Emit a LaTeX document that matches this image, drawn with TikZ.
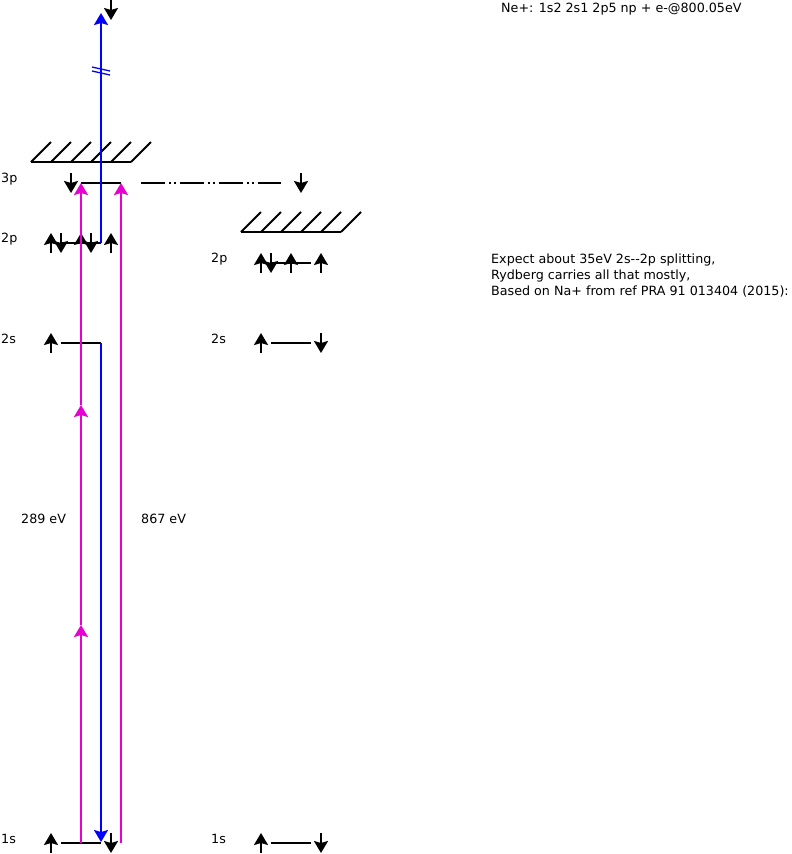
\documentclass[tikz,border=0pt]{standalone}
\usepackage{fontspec}
\setmainfont{DejaVu Sans}
\usetikzlibrary{arrows.meta}
\definecolor{pumpmag}{RGB}{230,0,210}

\begin{document}
\begin{tikzpicture}[x=1pt,y=-1pt,
  lvl/.style={line width=2pt},
  spin/.style={line width=2pt,-{Stealth[length=12pt,width=14pt,inset=2pt]}},
  pump/.style={spin,pumpmag},
  ion/.style={spin,blue},
  lbl/.style={anchor=west,inner sep=0pt,font=\fontsize{12.7}{16}\selectfont}]
\useasboundingbox (0,0) rectangle (792,854);

% Level labels
\foreach \t/\x/\y in {3p/1/179,2p/1/239,2s/1/339,1s/1/839,2p/211/259,2s/211/339,1s/211/839}
  \node[lbl] (lab-\x-\y) at (\x,\y) {\t};

% Continuum edges
\draw[lvl] (31,162) -- (131,162);
\foreach \i in {0,...,5}
  \draw[lvl] ({31+20*\i},162) -- ++(20,-20);
\draw[lvl] (241,232) -- (341,232);
\foreach \i in {0,...,5}
  \draw[lvl] ({241+20*\i},232) -- ++(20,-20);

% Levels
\draw[lvl] (61,843) -- (101,843);
\draw[lvl] (61,343) -- (101,343);
\draw[lvl] (61,243) -- (101,243);
\draw[lvl] (81,183) -- (121,183);
\draw[lvl,dash pattern=on 24pt off 4pt on 2pt off 3pt on 2pt off 4pt] (141,183) -- (281,183);
\draw[lvl] (271,843) -- (311,843);
\draw[lvl] (271,343) -- (311,343);
\draw[lvl] (271,263) -- (311,263);

% Spins
\foreach \x/\y in {51/843,51/343,51/243,81/243,111/243,261/843,261/343,261/263,291/263,321/263}
  \draw[spin] (\x,{\y+10}) -- (\x,{\y-10});
\foreach \x/\y in {111/843,61/243,91/243,71/183,301/183,111/10,321/843,321/343,271/263}
  \draw[spin] (\x,{\y-10}) -- (\x,{\y+10});

% Transitions
\coordinate (a1s) at (81,843);
\coordinate (am1) at (81,625);
\coordinate (am2) at (81,405);
\coordinate (a3p) at (81,183);
\coordinate (b1s) at (121,843);
\coordinate (b3p) at (121,183);
\coordinate (c2p) at (101,243);
\coordinate (cfree) at (101,13);
\coordinate (c2s) at (101,343);
\coordinate (c1s) at (101,842);
\draw[pump] (a1s) -- (am1);
\draw[pump] (am1) -- (am2);
\draw[pump] (am2) -- (a3p);
\draw[pump] (b1s) -- (b3p);
\draw[ion] (c2p) -- (cfree);
\draw[ion] (c2s) -- (c1s);
\draw[blue,line width=1.3pt] (92,67) -- (110,71);
\draw[blue,line width=1.3pt] (92,71) -- (110,75);

% Energies and notes
\node[lbl] (e289) at (21,519) {289 eV};
\node[lbl] (e867) at (141,519) {867 eV};
\node[lbl] (title) at (501,9) {Ne+: 1s2 2s1 2p5 np + e-@800.05eV};
\node[lbl,anchor=north west,align=left] (notes) at (491,254)
  {Expect about 35eV 2s-{}-2p splitting,\\
   Rydberg carries all that mostly,\\
   Based on Na+ from ref PRA 91 013404 (2015):};

\end{tikzpicture}
\end{document}
